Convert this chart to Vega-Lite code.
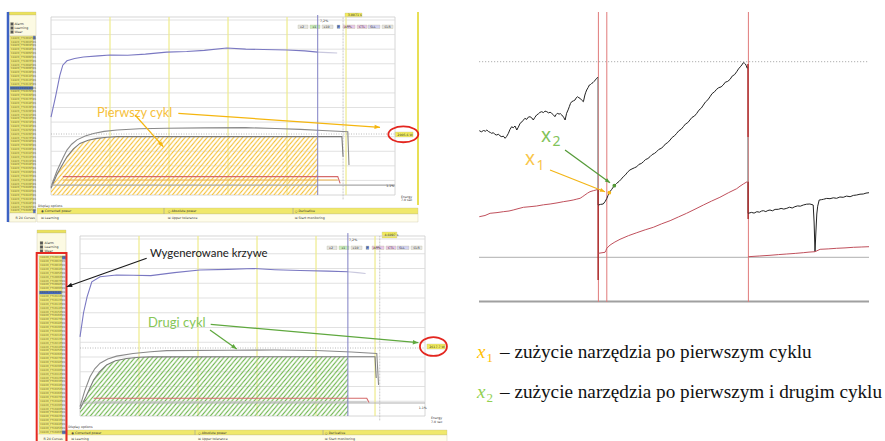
{
"$schema":"https://vega.github.io/schema/vega-lite/v6.json",
"width":885,"height":441,"autosize":{"type":"none"},"padding":0,"background":"#ffffff",
"config":{"view":{"stroke":null},"axis":{"grid":false,"tickSize":2,"labelFontSize":3.2,"labelFont":"DejaVu Sans","labelColor":"#333333","domainColor":"#555555","tickColor":"#555555","labelPadding":1,"labelFlush":false,"labelOverlap":false,"domainWidth":0.8,"tickWidth":0.6}},
"datasets":{
"files":[{"item":"C8820_FT1001PW1"},{"item":"C8820_FT1002PW1"},{"item":"C8820_FT1003PW1"},{"item":"C8820_FT1004PW1"},{"item":"C8820_FT1005PW1"},{"item":"C8820_FT1006PW1"},{"item":"C8820_FT1007PW1"},{"item":"C8820_FT1008PW1"},{"item":"C8820_FT1009PW1"},{"item":"C8820_FT1010PW1"},{"item":"C8820_FT1011PW1"},{"item":"C8820_FT1012PW1"},{"item":"C8820_FT1013PW1"},{"item":"C8820_FT1014PW1"},{"item":"C8820_FT1015PW1"},{"item":"C8820_FT1016PW1"},{"item":"C8820_FT1017PW1"},{"item":"C8820_FT1018PW1"},{"item":"C8820_FT1019PW1"},{"item":"C8820_FT1020PW1"},{"item":"C8820_FT1021PW1"},{"item":"C8820_FT1022PW1"},{"item":"C8820_FT1023PW1"},{"item":"C8820_FT1024PW1"},{"item":"C8820_FT1025PW1"},{"item":"C8820_FT1026PW1"},{"item":"C8820_FT1027PW1"},{"item":"C8820_FT1028PW1"},{"item":"C8820_FT1029PW1"},{"item":"C8820_FT1030PW1"},{"item":"C8820_FT1031PW1"},{"item":"C8820_FT1032PW1"},{"item":"C8820_FT1033PW1"},{"item":"C8820_FT1034PW1"},{"item":"C8820_FT1035PW1"},{"item":"C8820_FT1036PW1"},{"item":"C8820_FT1037PW1"},{"item":"C8820_FT1038PW1"},{"item":"C8820_FT1039PW1"},{"item":"C8820_FT1040PW1"},{"item":"C8820_FT1041PW1"},{"item":"C8820_FT1042PW1"},{"item":"C8820_FT1043PW1"},{"item":"C8820_FT1044PW1"},{"item":"C8820_FT1045PW1"},{"item":"C8820_FT1046PW1"}],
"stripesA":[],
"A_ui":[
{"part":"header","s":-0.729,"s2":-0.254,"w":6274,"w2":6171},
{"part":"cream","s":-0.729,"s2":-0.254,"w":6171,"w2":5451},
{"part":"listbg","s":-0.695,"s2":-0.263,"w":5451,"w2":-617},
{"part":"cream","s":-0.729,"s2":-0.254,"w":-617,"w2":-926},
{"part":"scroll","s":-0.305,"s2":-0.263,"w":5451,"w2":-617},
{"part":"scrollbtn","s":-0.305,"s2":-0.263,"w":5451,"w2":5330},
{"part":"scrollbtn","s":-0.305,"s2":-0.263,"w":-496,"w2":-617},
{"part":"check","s":-0.686,"s2":-0.636,"w":5914,"w2":5811},
{"part":"check","s":-0.686,"s2":-0.636,"w":5777,"w2":5674},
{"part":"check","s":-0.686,"s2":-0.636,"w":5640,"w2":5537},
{"part":"bar","s":-0.237,"s2":6.22,"w":-446,"w2":-651},
{"part":"panel","s":-0.237,"s2":6.22,"w":-651,"w2":-926},
{"part":"box","s":4.983,"s2":5.271,"w":6240,"w2":6103},
{"part":"box","s":5.83,"s2":6.136,"w":2160,"w2":1989},
{"part":"btn","s":4.186,"s2":4.356,"w":5829,"w2":5709},
{"part":"btn_g","s":4.39,"s2":4.559,"w":5829,"w2":5709},
{"part":"btn","s":4.593,"s2":4.78,"w":5829,"w2":5709},
{"part":"btn_b","s":4.847,"s2":4.898,"w":5829,"w2":5709},
{"part":"btn_p","s":4.949,"s2":5.153,"w":5829,"w2":5709},
{"part":"btn_p","s":5.186,"s2":5.356,"w":5829,"w2":5709},
{"part":"btn_v","s":5.373,"s2":5.576,"w":5829,"w2":5709},
{"part":"btn","s":5.61,"s2":5.797,"w":5829,"w2":5709}],
"A_text":[
{"label":"Alarm","s":-0.62,"w":5863},{"label":"Learning","s":-0.62,"w":5726},{"label":"Wear","s":-0.62,"w":5589},
{"label":"R 24 Curves","s":-0.6,"w":-789},{"label":"Display options","s":-0.22,"w":-360},
{"label":"◉ Corrected power","s":-0.17,"w":-548},{"label":"○ Absolute power","s":1.98,"w":-548},{"label":"○ Derivative","s":4.13,"w":-548},
{"label":"☒ Learning","s":-0.17,"w":-789},{"label":"☒ Upper tolerance","s":1.98,"w":-789},{"label":"☒ Start monitoring","s":4.13,"w":-789},
{"label":"3.0071 s","s":5.03,"w":6171},{"label":"2005.6 W","s":5.87,"w":2075},
{"label":"Energy","s":5.93,"w":-75},{"label":"7.0 sec","s":5.93,"w":-185},{"label":"1.1%","s":5.68,"w":309},{"label":"7,2%","s":4.56,"w":5966},
{"label":"x2","s":4.22,"w":5769},{"label":"x1","s":4.43,"w":5769},{"label":"x10","s":4.62,"w":5769},{"label":"P","s":4.855,"w":5769},{"label":"APPL","s":4.97,"w":5769},{"label":"CTL","s":5.22,"w":5769},{"label":"SLL","s":5.41,"w":5769},{"label":"CLR","s":5.65,"w":5769}],
"A_curves":[
{"curve":"power","s":0,"w":2670},{"curve":"power","s":0.08,"w":3400},{"curve":"power","s":0.15,"w":4100},{"curve":"power","s":0.2,"w":4450},{"curve":"power","s":0.27,"w":4600},{"curve":"power","s":0.4,"w":4680},{"curve":"power","s":0.55,"w":4730},{"curve":"power","s":0.8,"w":4770},{"curve":"power","s":1.0,"w":4800},{"curve":"power","s":1.3,"w":4790},{"curve":"power","s":1.6,"w":4830},{"curve":"power","s":1.96,"w":4900},{"curve":"power","s":2.3,"w":4920},{"curve":"power","s":2.6,"w":4960},{"curve":"power","s":2.98,"w":5040},{"curve":"power","s":3.3,"w":5000},{"curve":"power","s":3.6,"w":4990},{"curve":"power","s":4.0,"w":4970},{"curve":"power","s":4.3,"w":4940},{"curve":"power","s":4.52,"w":4900},
{"curve":"tail","s":4.52,"w":4900},{"curve":"tail","s":4.7,"w":4880},{"curve":"tail","s":4.85,"w":4870},
{"curve":"upper","s":0,"w":285},{"curve":"upper","s":0.1,"w":820},{"curve":"upper","s":0.2,"w":1260},{"curve":"upper","s":0.27,"w":1540},{"curve":"upper","s":0.35,"w":1740},{"curve":"upper","s":0.44,"w":1890},{"curve":"upper","s":0.58,"w":2020},{"curve":"upper","s":0.72,"w":2110},{"curve":"upper","s":0.9,"w":2180},{"curve":"upper","s":1.12,"w":2230},{"curve":"upper","s":1.5,"w":2270},{"curve":"upper","s":1.96,"w":2290},{"curve":"upper","s":2.6,"w":2300},{"curve":"upper","s":3.3,"w":2310},{"curve":"upper","s":3.8,"w":2280},{"curve":"upper","s":4.23,"w":2250},{"curve":"upper","s":4.6,"w":2210},{"curve":"upper","s":5.03,"w":2170},{"curve":"upper","s":5.05,"w":1030},
{"curve":"lower","s":0,"w":230},{"curve":"lower","s":0.1,"w":700},{"curve":"lower","s":0.2,"w":1060},{"curve":"lower","s":0.27,"w":1310},{"curve":"lower","s":0.38,"w":1580},{"curve":"lower","s":0.49,"w":1770},{"curve":"lower","s":0.63,"w":1880},{"curve":"lower","s":0.78,"w":1940},{"curve":"lower","s":0.95,"w":1980},{"curve":"lower","s":1.12,"w":2000},{"curve":"lower","s":4.93,"w":2000},{"curve":"lower","s":4.95,"w":1310},
{"curve":"red","s":0.2,"w":630},{"curve":"red","s":4.86,"w":630},{"curve":"red","s":4.9,"w":400},
{"curve":"orange","s":0.2,"w":515},{"curve":"orange","s":4.86,"w":515},
{"curve":"base","s":0,"w":340},{"curve":"base","s":5.83,"w":340}],
"A_hatch":[{"s":0,"w":230},{"s":0.1,"w":700},{"s":0.2,"w":1060},{"s":0.27,"w":1310},{"s":0.38,"w":1580},{"s":0.49,"w":1770},{"s":0.63,"w":1880},{"s":0.78,"w":1940},{"s":0.95,"w":1980},{"s":1.12,"w":2000},{"s":4.52,"w":2000}],
"B_ui":[
{"part":"header","s":-0.729,"s2":-0.237,"w":6305,"w2":6204},
{"part":"cream","s":-0.729,"s2":-0.237,"w":6204,"w2":5424},
{"part":"listbg","s":-0.695,"s2":-0.237,"w":5424,"w2":-610},
{"part":"cream","s":-0.729,"s2":-0.237,"w":-610,"w2":-983},
{"part":"scroll","s":-0.305,"s2":-0.237,"w":5424,"w2":-610},
{"part":"scrollbtn","s":-0.305,"s2":-0.237,"w":5424,"w2":5310},
{"part":"scrollbtn","s":-0.305,"s2":-0.237,"w":-496,"w2":-610},
{"part":"check","s":-0.678,"s2":-0.627,"w":5916,"w2":5814},
{"part":"check","s":-0.678,"s2":-0.627,"w":5780,"w2":5678},
{"part":"check","s":-0.678,"s2":-0.627,"w":5644,"w2":5543},
{"part":"bar","s":-0.22,"s2":6.22,"w":-475,"w2":-644},
{"part":"panel","s":-0.22,"s2":6.22,"w":-644,"w2":-983},
{"part":"box","s":5.12,"s2":5.37,"w":6237,"w2":6034},
{"part":"box","s":5.88,"s2":6.19,"w":2440,"w2":2270},
{"part":"btn","s":4.186,"s2":4.356,"w":5763,"w2":5644},
{"part":"btn_g","s":4.39,"s2":4.559,"w":5763,"w2":5644},
{"part":"btn","s":4.593,"s2":4.78,"w":5763,"w2":5644},
{"part":"btn_b","s":4.847,"s2":4.898,"w":5763,"w2":5644},
{"part":"btn_p","s":4.949,"s2":5.153,"w":5763,"w2":5644},
{"part":"btn_p","s":5.186,"s2":5.356,"w":5763,"w2":5644},
{"part":"btn_v","s":5.373,"s2":5.576,"w":5763,"w2":5644},
{"part":"btn","s":5.61,"s2":5.797,"w":5763,"w2":5644}],
"B_text":[
{"label":"Alarm","s":-0.6,"w":5865},{"label":"Learning","s":-0.6,"w":5729},{"label":"Wear","s":-0.6,"w":5594},
{"label":"R 24 Curves","s":-0.62,"w":-780},{"label":"Display options","s":-0.2,"w":-373},
{"label":"◉ Corrected power","s":-0.15,"w":-560},{"label":"○ Absolute power","s":2.0,"w":-560},{"label":"○ Derivative","s":4.15,"w":-560},
{"label":"☒ Learning","s":-0.15,"w":-790},{"label":"☒ Upper tolerance","s":2.0,"w":-790},{"label":"☒ Start monitoring","s":4.15,"w":-790},
{"label":"4.6097 s","s":5.16,"w":6135},{"label":"2617.7 W","s":5.92,"w":2356},
{"label":"Energy","s":5.95,"w":-68},{"label":"7.0 sec","s":5.95,"w":-203},{"label":"1.1%","s":5.74,"w":271},{"label":"7,2%","s":4.56,"w":5966},
{"label":"x2","s":4.22,"w":5703},{"label":"x1","s":4.43,"w":5703},{"label":"x10","s":4.62,"w":5703},{"label":"P","s":4.855,"w":5703},{"label":"APPL","s":4.97,"w":5703},{"label":"CTL","s":5.22,"w":5703},{"label":"SLL","s":5.41,"w":5703},{"label":"CLR","s":5.65,"w":5703}],
"B_curves":[
{"curve":"power","s":0,"w":2680},{"curve":"power","s":0.06,"w":3500},{"curve":"power","s":0.12,"w":4040},{"curve":"power","s":0.2,"w":4550},{"curve":"power","s":0.34,"w":4720},{"curve":"power","s":0.62,"w":4780},{"curve":"power","s":0.9,"w":4770},{"curve":"power","s":1.2,"w":4760},{"curve":"power","s":1.6,"w":4860},{"curve":"power","s":2.03,"w":4950},{"curve":"power","s":2.5,"w":4970},{"curve":"power","s":2.94,"w":5000},{"curve":"power","s":3.3,"w":4960},{"curve":"power","s":3.73,"w":4930},{"curve":"power","s":4.2,"w":4910},{"curve":"power","s":4.54,"w":4890},
{"curve":"tail","s":4.54,"w":4890},{"curve":"tail","s":4.7,"w":4860},{"curve":"tail","s":4.84,"w":4830},
{"curve":"upper","s":0,"w":320},{"curve":"upper","s":0.08,"w":850},{"curve":"upper","s":0.17,"w":1330},{"curve":"upper","s":0.25,"w":1600},{"curve":"upper","s":0.34,"w":1790},{"curve":"upper","s":0.47,"w":1930},{"curve":"upper","s":0.62,"w":2030},{"curve":"upper","s":0.9,"w":2120},{"curve":"upper","s":1.2,"w":2180},{"curve":"upper","s":1.47,"w":2215},{"curve":"upper","s":2.5,"w":2230},{"curve":"upper","s":3.3,"w":2235},{"curve":"upper","s":4.0,"w":2220},{"curve":"upper","s":4.6,"w":2170},{"curve":"upper","s":5.03,"w":2120},{"curve":"upper","s":5.06,"w":1050},
{"curve":"lower","s":0,"w":240},{"curve":"lower","s":0.1,"w":650},{"curve":"lower","s":0.23,"w":1220},{"curve":"lower","s":0.33,"w":1500},{"curve":"lower","s":0.45,"w":1730},{"curve":"lower","s":0.6,"w":1870},{"curve":"lower","s":0.79,"w":1950},{"curve":"lower","s":1.0,"w":1990},{"curve":"lower","s":1.2,"w":2005},{"curve":"lower","s":5.0,"w":2010},{"curve":"lower","s":5.02,"w":1290},
{"curve":"red","s":0.23,"w":600},{"curve":"red","s":4.86,"w":600},{"curve":"red","s":4.9,"w":450},
{"curve":"orange","s":0.23,"w":480},{"curve":"orange","s":4.86,"w":480},
{"curve":"base","s":0,"w":440},{"curve":"base","s":5.847,"w":440}],
"B_hatch":[{"s":0,"w":240},{"s":0.1,"w":650},{"s":0.23,"w":1220},{"s":0.33,"w":1500},{"s":0.45,"w":1730},{"s":0.6,"w":1870},{"s":0.79,"w":1950},{"s":1.0,"w":1990},{"s":1.2,"w":2005},{"s":4.54,"w":2010}],
"C_series":[
{"series":"tool","seg":1,"t":0.1,"v":171.3},{"series":"tool","seg":1,"t":0.8,"v":170.2},{"series":"tool","seg":1,"t":1.5,"v":171.5},{"series":"tool","seg":1,"t":2.2,"v":170.8},{"series":"tool","seg":1,"t":2.6,"v":172.0},{"series":"tool","seg":1,"t":3.2,"v":170.4},{"series":"tool","seg":1,"t":3.8,"v":169.5},{"series":"tool","seg":1,"t":4.2,"v":168.7},{"series":"tool","seg":1,"t":4.8,"v":169.3},{"series":"tool","seg":1,"t":5.3,"v":167.6},{"series":"tool","seg":1,"t":5.9,"v":167.0},{"series":"tool","seg":1,"t":6.5,"v":167.8},{"series":"tool","seg":1,"t":7.0,"v":166.1},{"series":"tool","seg":1,"t":7.6,"v":165.3},{"series":"tool","seg":1,"t":8.1,"v":165.9},{"series":"tool","seg":1,"t":8.7,"v":163.7},{"series":"tool","seg":1,"t":9.2,"v":165.5},{"series":"tool","seg":1,"t":9.8,"v":168.7},{"series":"tool","seg":1,"t":10.3,"v":172.4},{"series":"tool","seg":1,"t":10.9,"v":175.3},{"series":"tool","seg":1,"t":11.4,"v":174.2},{"series":"tool","seg":1,"t":12.0,"v":176.0},{"series":"tool","seg":1,"t":12.6,"v":172.0},{"series":"tool","seg":1,"t":13.1,"v":174.8},{"series":"tool","seg":1,"t":13.7,"v":178.7},{"series":"tool","seg":1,"t":14.3,"v":180.1},{"series":"tool","seg":1,"t":14.8,"v":181.9},{"series":"tool","seg":1,"t":15.3,"v":183.7},{"series":"tool","seg":1,"t":15.9,"v":182.6},{"series":"tool","seg":1,"t":16.4,"v":184.8},{"series":"tool","seg":1,"t":17.0,"v":185.3},{"series":"tool","seg":1,"t":17.6,"v":184.1},{"series":"tool","seg":1,"t":18.1,"v":182.0},{"series":"tool","seg":1,"t":18.6,"v":184.5},{"series":"tool","seg":1,"t":19.2,"v":187.0},{"series":"tool","seg":1,"t":19.8,"v":188.2},{"series":"tool","seg":1,"t":20.3,"v":189.6},{"series":"tool","seg":1,"t":20.9,"v":190.3},{"series":"tool","seg":1,"t":21.5,"v":189.4},{"series":"tool","seg":1,"t":22.0,"v":190.9},{"series":"tool","seg":1,"t":22.6,"v":190.3},{"series":"tool","seg":1,"t":23.2,"v":189.1},{"series":"tool","seg":1,"t":23.7,"v":189.8},{"series":"tool","seg":1,"t":24.2,"v":188.7},{"series":"tool","seg":1,"t":24.8,"v":187.2},{"series":"tool","seg":1,"t":25.3,"v":185.3},{"series":"tool","seg":1,"t":25.7,"v":187.4},{"series":"tool","seg":1,"t":26.1,"v":188.7},{"series":"tool","seg":1,"t":26.7,"v":187.9},{"series":"tool","seg":1,"t":27.1,"v":188.4},{"series":"tool","seg":1,"t":27.6,"v":187.0},{"series":"tool","seg":1,"t":28.2,"v":184.8},{"series":"tool","seg":1,"t":28.7,"v":182.0},{"series":"tool","seg":1,"t":29.2,"v":188.7},{"series":"tool","seg":1,"t":29.7,"v":192.1},{"series":"tool","seg":1,"t":30.1,"v":195.3},{"series":"tool","seg":1,"t":30.5,"v":198.6},{"series":"tool","seg":1,"t":30.9,"v":200.3},{"series":"tool","seg":1,"t":31.5,"v":201.2},{"series":"tool","seg":1,"t":32.0,"v":202.0},{"series":"tool","seg":1,"t":32.4,"v":204.1},{"series":"tool","seg":1,"t":32.8,"v":205.3},{"series":"tool","seg":1,"t":33.3,"v":204.2},{"series":"tool","seg":1,"t":33.7,"v":203.7},{"series":"tool","seg":1,"t":34.2,"v":201.9},{"series":"tool","seg":1,"t":34.8,"v":200.3},{"series":"tool","seg":1,"t":35.3,"v":207.0},{"series":"tool","seg":1,"t":35.6,"v":209.8},{"series":"tool","seg":1,"t":35.9,"v":212.0},{"series":"tool","seg":1,"t":36.4,"v":214.6},{"series":"tool","seg":1,"t":36.8,"v":217.0},{"series":"tool","seg":1,"t":37.2,"v":217.5},{"series":"tool","seg":1,"t":37.6,"v":218.7},{"series":"tool","seg":1,"t":38.0,"v":219.4},{"series":"tool","seg":1,"t":38.3,"v":220.3},{"series":"tool","seg":1,"t":38.8,"v":222.1},{"series":"tool","seg":1,"t":39.2,"v":223.7},{"series":"tool","seg":1,"t":39.6,"v":224.7},
{"series":"tool","seg":2,"t":39.8,"v":97.0},{"series":"tool","seg":2,"t":40.5,"v":97.6},{"series":"tool","seg":2,"t":41.4,"v":98.0},{"series":"tool","seg":2,"t":42.0,"v":100.3},{"series":"tool","seg":2,"t":42.6,"v":103.5},{"series":"tool","seg":2,"t":43.0,"v":106.5},{"series":"tool","seg":2,"t":43.4,"v":109.3},{"series":"tool","seg":2,"t":44.2,"v":112.5},{"series":"tool","seg":2,"t":45.1,"v":116.3},{"series":"tool","seg":2,"t":45.9,"v":118.7},{"series":"tool","seg":2,"t":46.7,"v":120.6},{"series":"tool","seg":2,"t":47.4,"v":122.8},{"series":"tool","seg":2,"t":48.1,"v":125.3},{"series":"tool","seg":2,"t":48.8,"v":127.1},{"series":"tool","seg":2,"t":49.5,"v":129.8},{"series":"tool","seg":2,"t":50.3,"v":132.0},{"series":"tool","seg":2,"t":51.0,"v":133.1},{"series":"tool","seg":2,"t":51.8,"v":134.2},{"series":"tool","seg":2,"t":52.6,"v":135.3},{"series":"tool","seg":2,"t":53.3,"v":137.6},{"series":"tool","seg":2,"t":54.1,"v":138.5},{"series":"tool","seg":2,"t":54.8,"v":140.3},{"series":"tool","seg":2,"t":55.5,"v":142.4},{"series":"tool","seg":2,"t":56.3,"v":143.5},{"series":"tool","seg":2,"t":57.0,"v":145.3},{"series":"tool","seg":2,"t":57.7,"v":147.4},{"series":"tool","seg":2,"t":58.5,"v":148.6},{"series":"tool","seg":2,"t":59.2,"v":150.3},{"series":"tool","seg":2,"t":59.9,"v":152.5},{"series":"tool","seg":2,"t":60.7,"v":153.6},{"series":"tool","seg":2,"t":61.4,"v":155.3},{"series":"tool","seg":2,"t":62.1,"v":157.9},{"series":"tool","seg":2,"t":62.9,"v":159.4},{"series":"tool","seg":2,"t":63.7,"v":162.0},{"series":"tool","seg":2,"t":64.4,"v":164.6},{"series":"tool","seg":2,"t":65.2,"v":166.3},{"series":"tool","seg":2,"t":65.9,"v":168.7},{"series":"tool","seg":2,"t":66.6,"v":171.2},{"series":"tool","seg":2,"t":67.4,"v":172.8},{"series":"tool","seg":2,"t":68.1,"v":175.3},{"series":"tool","seg":2,"t":68.8,"v":177.9},{"series":"tool","seg":2,"t":69.6,"v":179.4},{"series":"tool","seg":2,"t":70.3,"v":182.0},{"series":"tool","seg":2,"t":71.0,"v":184.6},{"series":"tool","seg":2,"t":71.8,"v":185.9},{"series":"tool","seg":2,"t":72.6,"v":188.7},{"series":"tool","seg":2,"t":73.3,"v":191.8},{"series":"tool","seg":2,"t":74.1,"v":193.9},{"series":"tool","seg":2,"t":74.8,"v":197.0},{"series":"tool","seg":2,"t":75.5,"v":200.1},{"series":"tool","seg":2,"t":76.3,"v":202.2},{"series":"tool","seg":2,"t":77.0,"v":205.3},{"series":"tool","seg":2,"t":77.7,"v":208.4},{"series":"tool","seg":2,"t":78.5,"v":210.2},{"series":"tool","seg":2,"t":79.2,"v":212.7},{"series":"tool","seg":2,"t":79.9,"v":214.3},{"series":"tool","seg":2,"t":80.7,"v":215.1},{"series":"tool","seg":2,"t":81.4,"v":217.0},{"series":"tool","seg":2,"t":82.1,"v":219.8},{"series":"tool","seg":2,"t":82.9,"v":220.6},{"series":"tool","seg":2,"t":83.7,"v":222.7},{"series":"tool","seg":2,"t":84.4,"v":225.9},{"series":"tool","seg":2,"t":85.2,"v":227.4},{"series":"tool","seg":2,"t":85.9,"v":230.3},{"series":"tool","seg":2,"t":86.5,"v":233.1},{"series":"tool","seg":2,"t":87.1,"v":235.2},{"series":"tool","seg":2,"t":87.6,"v":237.0},{"series":"tool","seg":2,"t":88.1,"v":239.3},{"series":"tool","seg":2,"t":88.5,"v":238.8},{"series":"tool","seg":2,"t":88.8,"v":238.0},{"series":"tool","seg":2,"t":89.1,"v":236.2},{"series":"tool","seg":2,"t":89.4,"v":233.7},
{"series":"tool","seg":3,"t":89.8,"v":88.7},{"series":"tool","seg":3,"t":90.8,"v":89.6},{"series":"tool","seg":3,"t":91.7,"v":88.9},{"series":"tool","seg":3,"t":92.6,"v":90.3},{"series":"tool","seg":3,"t":93.5,"v":89.8},{"series":"tool","seg":3,"t":94.2,"v":91.0},{"series":"tool","seg":3,"t":94.8,"v":91.3},{"series":"tool","seg":3,"t":95.6,"v":90.4},{"series":"tool","seg":3,"t":96.3,"v":91.5},{"series":"tool","seg":3,"t":97.0,"v":92.0},{"series":"tool","seg":3,"t":97.8,"v":91.2},{"series":"tool","seg":3,"t":98.7,"v":92.6},{"series":"tool","seg":3,"t":99.8,"v":92.7},{"series":"tool","seg":3,"t":100.7,"v":93.6},{"series":"tool","seg":3,"t":101.6,"v":92.9},{"series":"tool","seg":3,"t":102.6,"v":93.7},{"series":"tool","seg":3,"t":103.5,"v":94.8},{"series":"tool","seg":3,"t":104.4,"v":94.0},{"series":"tool","seg":3,"t":105.3,"v":95.3},{"series":"tool","seg":3,"t":106.2,"v":96.1},{"series":"tool","seg":3,"t":107.1,"v":95.8},{"series":"tool","seg":3,"t":108.1,"v":97.0},{"series":"tool","seg":3,"t":109.2,"v":97.8},{"series":"tool","seg":3,"t":110.3,"v":98.0},{"series":"tool","seg":3,"t":111.0,"v":97.4},{"series":"tool","seg":3,"t":111.4,"v":97.0},{"series":"tool","seg":3,"t":111.7,"v":80.0},{"series":"tool","seg":3,"t":112.0,"v":50.3},{"series":"tool","seg":3,"t":112.3,"v":70.0},{"series":"tool","seg":3,"t":112.6,"v":88.0},{"series":"tool","seg":3,"t":112.9,"v":95.8},{"series":"tool","seg":3,"t":113.4,"v":102.0},{"series":"tool","seg":3,"t":114.1,"v":102.3},{"series":"tool","seg":3,"t":114.8,"v":102.7},{"series":"tool","seg":3,"t":115.9,"v":103.6},{"series":"tool","seg":3,"t":117.0,"v":103.3},{"series":"tool","seg":3,"t":118.1,"v":104.2},{"series":"tool","seg":3,"t":119.2,"v":103.7},{"series":"tool","seg":3,"t":120.3,"v":105.0},{"series":"tool","seg":3,"t":121.4,"v":104.7},{"series":"tool","seg":3,"t":122.5,"v":105.9},{"series":"tool","seg":3,"t":123.7,"v":105.3},{"series":"tool","seg":3,"t":124.8,"v":106.6},{"series":"tool","seg":3,"t":125.9,"v":107.0},{"series":"tool","seg":3,"t":127.0,"v":107.8},{"series":"tool","seg":3,"t":128.1,"v":108.0},{"series":"tool","seg":3,"t":129.0,"v":108.9},{"series":"tool","seg":3,"t":130.0,"v":109.3},
{"series":"ref","seg":1,"t":0.1,"v":85.3},{"series":"ref","seg":1,"t":2.0,"v":86.5},{"series":"ref","seg":1,"t":3.7,"v":88.7},{"series":"ref","seg":1,"t":6.0,"v":89.4},{"series":"ref","seg":1,"t":8.1,"v":90.3},{"series":"ref","seg":1,"t":10.0,"v":91.0},{"series":"ref","seg":1,"t":11.4,"v":92.0},{"series":"ref","seg":1,"t":13.0,"v":93.3},{"series":"ref","seg":1,"t":14.8,"v":94.7},{"series":"ref","seg":1,"t":17.0,"v":95.3},{"series":"ref","seg":1,"t":19.2,"v":96.0},{"series":"ref","seg":1,"t":21.5,"v":97.2},{"series":"ref","seg":1,"t":23.7,"v":98.0},{"series":"ref","seg":1,"t":26.0,"v":99.1},{"series":"ref","seg":1,"t":28.1,"v":100.3},{"series":"ref","seg":1,"t":30.0,"v":101.2},{"series":"ref","seg":1,"t":31.4,"v":102.0},{"series":"ref","seg":1,"t":32.6,"v":102.9},{"series":"ref","seg":1,"t":33.7,"v":103.7},{"series":"ref","seg":1,"t":34.6,"v":105.5},{"series":"ref","seg":1,"t":35.3,"v":107.0},{"series":"ref","seg":1,"t":36.2,"v":108.9},{"series":"ref","seg":1,"t":37.0,"v":110.3},{"series":"ref","seg":1,"t":38.1,"v":111.3},{"series":"ref","seg":1,"t":39.0,"v":112.0},{"series":"ref","seg":1,"t":39.6,"v":112.7},
{"series":"ref","seg":2,"t":39.8,"v":48.7},{"series":"ref","seg":2,"t":42.0,"v":49.7},{"series":"ref","seg":2,"t":42.3,"v":51.5},{"series":"ref","seg":2,"t":42.6,"v":53.7},{"series":"ref","seg":2,"t":43.7,"v":57.0},{"series":"ref","seg":2,"t":45.3,"v":60.0},{"series":"ref","seg":2,"t":47.0,"v":62.7},{"series":"ref","seg":2,"t":49.8,"v":66.3},{"series":"ref","seg":2,"t":52.6,"v":69.3},{"series":"ref","seg":2,"t":55.4,"v":72.2},{"series":"ref","seg":2,"t":58.1,"v":74.7},{"series":"ref","seg":2,"t":60.9,"v":78.2},{"series":"ref","seg":2,"t":63.7,"v":81.3},{"series":"ref","seg":2,"t":66.5,"v":85.1},{"series":"ref","seg":2,"t":69.2,"v":88.7},{"series":"ref","seg":2,"t":72.0,"v":92.8},{"series":"ref","seg":2,"t":74.8,"v":97.0},{"series":"ref","seg":2,"t":77.5,"v":100.9},{"series":"ref","seg":2,"t":80.3,"v":104.7},{"series":"ref","seg":2,"t":83.1,"v":109.2},{"series":"ref","seg":2,"t":85.9,"v":113.3},{"series":"ref","seg":2,"t":87.0,"v":115.8},{"series":"ref","seg":2,"t":88.1,"v":118.0},{"series":"ref","seg":2,"t":89.4,"v":120.3},
{"series":"ref","seg":3,"t":89.8,"v":45.3},{"series":"ref","seg":3,"t":93.4,"v":46.0},{"series":"ref","seg":3,"t":97.0,"v":46.7},{"series":"ref","seg":3,"t":99.8,"v":47.4},{"series":"ref","seg":3,"t":102.6,"v":48.0},{"series":"ref","seg":3,"t":105.4,"v":48.6},{"series":"ref","seg":3,"t":108.1,"v":49.3},{"series":"ref","seg":3,"t":110.0,"v":49.9},{"series":"ref","seg":3,"t":112.0,"v":50.3},{"series":"ref","seg":3,"t":113.7,"v":52.7},{"series":"ref","seg":3,"t":116.4,"v":53.1},{"series":"ref","seg":3,"t":119.2,"v":53.7},{"series":"ref","seg":3,"t":122.0,"v":54.1},{"series":"ref","seg":3,"t":124.8,"v":54.7},{"series":"ref","seg":3,"t":127.4,"v":55.0},{"series":"ref","seg":3,"t":130.0,"v":55.3}]
},
"layer":[
{
"layer":[
{
"layer":[
{"data":{"name":"A_ui"},"mark":{"type":"rect","stroke":"#b9b48c","strokeWidth":0.3},
 "encoding":{
  "x":{"field":"s","type":"quantitative","scale":{"domain":[0,5.83],"range":[51,395],"nice":false,"zero":false},"axis":{"orient":"bottom","offset":-246,"values":[0,1,2,3,4,5],"labelExpr":"datum.value == 0 ? '0s' : format(datum.value, '.1f') + 's'","title":null}},
  "x2":{"field":"s2"},
  "y":{"field":"w","type":"quantitative","scale":{"domain":[0,6000],"range":[195,20],"nice":false,"zero":false},"axis":{"orient":"left","offset":-50.5,"values":[0,1000,2000,3000,4000,5000,6000],"format":".1f","title":null}},
  "y2":{"field":"w2"},
  "fill":{"field":"part","type":"nominal","scale":{"domain":["header","cream","listbg","scroll","scrollbtn","bar","panel","box","btn","btn_g","btn_b","btn_p","btn_v","check"],"range":["#ebe25b","#fcfae3","#d9d48e","#dfe3ee","#4d6ec8","#f0e86a","#fffdeb","#f2ec5c","#e4e4e4","#c6ecbd","#6f8fe0","#e8c8e8","#d3d3f2","#555555"]},"legend":null}}},
{"data":{"values":[{}]},"mark":{"type":"rect","filled":false,"color":"#cccccc","strokeWidth":0.8},
 "encoding":{"x":{"datum":0,"axis":null},"x2":{"datum":5.83},"y":{"datum":0,"axis":null},"y2":{"datum":6103}}},
{"data":{"values":[{"w":500},{"w":1000},{"w":1500},{"w":2000},{"w":2500},{"w":3000},{"w":3500},{"w":4000},{"w":4500},{"w":5000},{"w":5500},{"w":6000}]},
 "mark":{"type":"rule","color":"#d9d9d9","strokeWidth":0.8},
 "encoding":{"y":{"field":"w","type":"quantitative","axis":null},"x":{"datum":0,"axis":null},"x2":{"datum":5.83}}},
{"data":{"values":[{"s":1},{"s":2},{"s":3},{"s":4},{"s":5}]},"mark":{"type":"rule","color":"#eeeb8c","strokeWidth":1.2},
 "encoding":{"x":{"field":"s","type":"quantitative","axis":null},"y":{"datum":0,"axis":null},"y2":{"datum":6103}}},
{"data":{"values":[{"s":4.95}]},"mark":{"type":"rule","color":"#bbbbbb","strokeWidth":0.8,"strokeDash":[2,1]},
 "encoding":{"x":{"field":"s","type":"quantitative","axis":null},"y":{"datum":-150,"axis":null},"y2":{"datum":6103}}},
{"data":{"values":[{"w":2091}]},"mark":{"type":"rule","color":"#aaaaaa","strokeWidth":0.8,"strokeDash":[1,1.5]},
 "encoding":{"y":{"field":"w","type":"quantitative","axis":null},"x":{"datum":0,"axis":null},"x2":{"datum":5.83}}},
{"data":{"name":"A_hatch"},"mark":{"type":"area","color":{"gradient":"linear","x1":0,"y1":0,"x2":1.145,"y2":0.2095,"stops":[
{"offset":0,"color":"rgba(255,255,255,0)"},{"offset":0.007,"color":"#f5c13a"},{"offset":0.014,"color":"rgba(255,255,255,0)"},{"offset":0.021,"color":"#f5c13a"},{"offset":0.028,"color":"rgba(255,255,255,0)"},{"offset":0.035,"color":"#f5c13a"},{"offset":0.042,"color":"rgba(255,255,255,0)"},{"offset":0.049,"color":"#f5c13a"},{"offset":0.056,"color":"rgba(255,255,255,0)"},{"offset":0.063,"color":"#f5c13a"},{"offset":0.07,"color":"rgba(255,255,255,0)"},{"offset":0.077,"color":"#f5c13a"},{"offset":0.084,"color":"rgba(255,255,255,0)"},{"offset":0.091,"color":"#f5c13a"},{"offset":0.098,"color":"rgba(255,255,255,0)"},{"offset":0.105,"color":"#f5c13a"},{"offset":0.112,"color":"rgba(255,255,255,0)"},{"offset":0.119,"color":"#f5c13a"},{"offset":0.126,"color":"rgba(255,255,255,0)"},{"offset":0.133,"color":"#f5c13a"},{"offset":0.14,"color":"rgba(255,255,255,0)"},{"offset":0.147,"color":"#f5c13a"},{"offset":0.154,"color":"rgba(255,255,255,0)"},{"offset":0.161,"color":"#f5c13a"},{"offset":0.168,"color":"rgba(255,255,255,0)"},{"offset":0.175,"color":"#f5c13a"},{"offset":0.182,"color":"rgba(255,255,255,0)"},{"offset":0.189,"color":"#f5c13a"},{"offset":0.196,"color":"rgba(255,255,255,0)"},{"offset":0.203,"color":"#f5c13a"},{"offset":0.21,"color":"rgba(255,255,255,0)"},{"offset":0.217,"color":"#f5c13a"},{"offset":0.224,"color":"rgba(255,255,255,0)"},{"offset":0.231,"color":"#f5c13a"},{"offset":0.238,"color":"rgba(255,255,255,0)"},{"offset":0.245,"color":"#f5c13a"},{"offset":0.252,"color":"rgba(255,255,255,0)"},{"offset":0.259,"color":"#f5c13a"},{"offset":0.266,"color":"rgba(255,255,255,0)"},{"offset":0.273,"color":"#f5c13a"},{"offset":0.28,"color":"rgba(255,255,255,0)"},{"offset":0.287,"color":"#f5c13a"},{"offset":0.294,"color":"rgba(255,255,255,0)"},{"offset":0.301,"color":"#f5c13a"},{"offset":0.308,"color":"rgba(255,255,255,0)"},{"offset":0.315,"color":"#f5c13a"},{"offset":0.322,"color":"rgba(255,255,255,0)"},{"offset":0.329,"color":"#f5c13a"},{"offset":0.336,"color":"rgba(255,255,255,0)"},{"offset":0.343,"color":"#f5c13a"},{"offset":0.35,"color":"rgba(255,255,255,0)"},{"offset":0.357,"color":"#f5c13a"},{"offset":0.364,"color":"rgba(255,255,255,0)"},{"offset":0.371,"color":"#f5c13a"},{"offset":0.378,"color":"rgba(255,255,255,0)"},{"offset":0.385,"color":"#f5c13a"},{"offset":0.392,"color":"rgba(255,255,255,0)"},{"offset":0.399,"color":"#f5c13a"},{"offset":0.406,"color":"rgba(255,255,255,0)"},{"offset":0.413,"color":"#f5c13a"},{"offset":0.42,"color":"rgba(255,255,255,0)"},{"offset":0.427,"color":"#f5c13a"},{"offset":0.434,"color":"rgba(255,255,255,0)"},{"offset":0.441,"color":"#f5c13a"},{"offset":0.448,"color":"rgba(255,255,255,0)"},{"offset":0.455,"color":"#f5c13a"},{"offset":0.462,"color":"rgba(255,255,255,0)"},{"offset":0.469,"color":"#f5c13a"},{"offset":0.476,"color":"rgba(255,255,255,0)"},{"offset":0.483,"color":"#f5c13a"},{"offset":0.49,"color":"rgba(255,255,255,0)"},{"offset":0.497,"color":"#f5c13a"},{"offset":0.504,"color":"rgba(255,255,255,0)"},{"offset":0.511,"color":"#f5c13a"},{"offset":0.518,"color":"rgba(255,255,255,0)"},{"offset":0.525,"color":"#f5c13a"},{"offset":0.532,"color":"rgba(255,255,255,0)"},{"offset":0.539,"color":"#f5c13a"},{"offset":0.546,"color":"rgba(255,255,255,0)"},{"offset":0.553,"color":"#f5c13a"},{"offset":0.56,"color":"rgba(255,255,255,0)"},{"offset":0.567,"color":"#f5c13a"},{"offset":0.574,"color":"rgba(255,255,255,0)"},{"offset":0.581,"color":"#f5c13a"},{"offset":0.588,"color":"rgba(255,255,255,0)"},{"offset":0.595,"color":"#f5c13a"},{"offset":0.602,"color":"rgba(255,255,255,0)"},{"offset":0.609,"color":"#f5c13a"},{"offset":0.616,"color":"rgba(255,255,255,0)"},{"offset":0.623,"color":"#f5c13a"},{"offset":0.63,"color":"rgba(255,255,255,0)"},{"offset":0.637,"color":"#f5c13a"},{"offset":0.644,"color":"rgba(255,255,255,0)"},{"offset":0.651,"color":"#f5c13a"},{"offset":0.658,"color":"rgba(255,255,255,0)"},{"offset":0.665,"color":"#f5c13a"},{"offset":0.672,"color":"rgba(255,255,255,0)"},{"offset":0.679,"color":"#f5c13a"},{"offset":0.686,"color":"rgba(255,255,255,0)"},{"offset":0.693,"color":"#f5c13a"},{"offset":0.7,"color":"rgba(255,255,255,0)"},{"offset":0.707,"color":"#f5c13a"},{"offset":0.714,"color":"rgba(255,255,255,0)"},{"offset":0.721,"color":"#f5c13a"},{"offset":0.728,"color":"rgba(255,255,255,0)"},{"offset":0.735,"color":"#f5c13a"},{"offset":0.742,"color":"rgba(255,255,255,0)"},{"offset":0.749,"color":"#f5c13a"},{"offset":0.756,"color":"rgba(255,255,255,0)"},{"offset":0.763,"color":"#f5c13a"},{"offset":0.77,"color":"rgba(255,255,255,0)"},{"offset":0.777,"color":"#f5c13a"},{"offset":0.784,"color":"rgba(255,255,255,0)"},{"offset":0.791,"color":"#f5c13a"},{"offset":0.798,"color":"rgba(255,255,255,0)"},{"offset":0.805,"color":"#f5c13a"},{"offset":0.812,"color":"rgba(255,255,255,0)"},{"offset":0.819,"color":"#f5c13a"},{"offset":0.826,"color":"rgba(255,255,255,0)"},{"offset":0.833,"color":"#f5c13a"},{"offset":0.84,"color":"rgba(255,255,255,0)"},{"offset":0.847,"color":"#f5c13a"},{"offset":0.854,"color":"rgba(255,255,255,0)"},{"offset":0.861,"color":"#f5c13a"},{"offset":0.868,"color":"rgba(255,255,255,0)"},{"offset":0.875,"color":"#f5c13a"},{"offset":0.882,"color":"rgba(255,255,255,0)"},{"offset":0.889,"color":"#f5c13a"},{"offset":0.896,"color":"rgba(255,255,255,0)"},{"offset":0.903,"color":"#f5c13a"},{"offset":0.91,"color":"rgba(255,255,255,0)"},{"offset":0.917,"color":"#f5c13a"},{"offset":0.924,"color":"rgba(255,255,255,0)"},{"offset":0.931,"color":"#f5c13a"},{"offset":0.938,"color":"rgba(255,255,255,0)"},{"offset":0.945,"color":"#f5c13a"},{"offset":0.952,"color":"rgba(255,255,255,0)"},{"offset":0.959,"color":"#f5c13a"},{"offset":0.966,"color":"rgba(255,255,255,0)"},{"offset":0.973,"color":"#f5c13a"},{"offset":0.98,"color":"rgba(255,255,255,0)"},{"offset":0.987,"color":"#f5c13a"},{"offset":0.994,"color":"rgba(255,255,255,0)"},{"offset":1,"color":"#f5c13a"}]}},
 "encoding":{"x":{"field":"s","type":"quantitative","axis":null},"y":{"field":"w","type":"quantitative","axis":null},"y2":{"datum":0}}},
{"data":{"name":"A_curves"},"mark":{"type":"line","strokeWidth":1.1},
 "encoding":{"x":{"field":"s","type":"quantitative","axis":null},"y":{"field":"w","type":"quantitative","axis":null},
  "color":{"field":"curve","type":"nominal","scale":{"domain":["power","tail","upper","lower","red","orange","base"],"range":["#7a78c2","#c9c8de","#8a8a8a","#7a7a7a","#d56a6a","#f0b44a","#a8a8a8"]},"legend":null}}},
{"data":{"values":[{"s":4.52}]},"mark":{"type":"rule","color":"#7f7fc4","strokeWidth":1},
 "encoding":{"x":{"field":"s","type":"quantitative","axis":null},"y":{"datum":0,"axis":null},"y2":{"datum":6171}}},
{"data":{"values":[{}]},"mark":{"type":"rule","color":"#3d62c4","strokeWidth":2.5},
 "encoding":{"x":{"datum":-0.729,"axis":null},"y":{"datum":6274,"axis":null},"y2":{"datum":-926}}},
{"data":{"values":[{}]},"mark":{"type":"rule","color":"#e8df55","strokeWidth":2},
 "encoding":{"x":{"datum":6.22,"axis":null},"y":{"datum":6274,"axis":null},"y2":{"datum":-343}}},
{"data":{"values":[{"s":1.915},{"s":4.102}]},"mark":{"type":"rule","color":"#9a9a9a","strokeWidth":0.6},
 "encoding":{"x":{"field":"s","type":"quantitative","axis":null},"y":{"datum":-446,"axis":null},"y2":{"datum":-651}}},
{"data":{"name":"A_text"},"mark":{"type":"text","fontSize":3.2,"font":"DejaVu Sans","align":"left","baseline":"middle","color":"#333333"},
 "encoding":{"x":{"field":"s","type":"quantitative","axis":null},"y":{"field":"w","type":"quantitative","axis":null},"text":{"field":"label"}}},
{"data":{"values":[{"label":"Pierwszy cykl","s":0.78,"w":2811}]},"mark":{"type":"text","fontSize":12.8,"font":"Lato","align":"left","baseline":"middle","color":"#f6bf3a"},
 "encoding":{"x":{"field":"s","type":"quantitative","axis":null},"y":{"field":"w","type":"quantitative","axis":null},"text":{"field":"label"}}},
{"data":{"values":[{"s":2.158,"w":2801,"s2":5.576,"w2":2321}]},"layer":[
 {"mark":{"type":"rule","color":"#f5b60f","strokeWidth":1.2},"encoding":{"x":{"field":"s","type":"quantitative","axis":null},"y":{"field":"w","type":"quantitative","axis":null},"x2":{"field":"s2"},"y2":{"field":"w2"}}},
 {"mark":{"type":"point","shape":"M 0 0 L -2 -0.8 L -2 0.8 Z","filled":true,"opacity":1,"color":"#f5b60f","size":30,"angle":3.97},"encoding":{"x":{"field":"s2","type":"quantitative","axis":null},"y":{"field":"w2","type":"quantitative","axis":null}}}]},
{"data":{"values":[{"s":1.424,"w":2743,"s2":1.903,"w2":1656}]},"layer":[
 {"mark":{"type":"rule","color":"#f5b60f","strokeWidth":1.2},"encoding":{"x":{"field":"s","type":"quantitative","axis":null},"y":{"field":"w","type":"quantitative","axis":null},"x2":{"field":"s2"},"y2":{"field":"w2"}}},
 {"mark":{"type":"point","shape":"M 0 0 L -2 -0.8 L -2 0.8 Z","filled":true,"opacity":1,"color":"#f5b60f","size":30,"angle":48.2},"encoding":{"x":{"field":"s2","type":"quantitative","axis":null},"y":{"field":"w2","type":"quantitative","axis":null}}}]},
{"data":{"values":[{"s":5.971,"w":2081}]},"mark":{"type":"point","shape":"M -1 0 A 1 0.53 0 1 1 1 0 A 1 0.53 0 1 1 -1 0 Z","filled":false,"opacity":1,"color":"#e3261f","strokeWidth":1.8,"size":900},
 "encoding":{"x":{"field":"s","type":"quantitative","axis":null},"y":{"field":"w","type":"quantitative","axis":null}}}
],
"resolve":{"scale":{"color":"independent","fill":"independent"}}
},
{"data":{"name":"files"},"layer":[
 {"mark":{"type":"rect","stroke":"#d2cb6c","strokeWidth":0.3},
  "encoding":{"x":{"datum":"list","type":"nominal","scale":{"range":[10,33],"paddingInner":0,"paddingOuter":0},"axis":null},
   "y":{"field":"item","type":"nominal","sort":null,"scale":{"range":[36.5,212.5],"paddingInner":0.12,"paddingOuter":0},"axis":null},
   "fill":{"condition":{"test":"datum.item === 'C8820_FT1014PW1'","value":"#3b64c6"},"value":"#f3ed78"}}},
 {"mark":{"type":"text","fontSize":2.6,"font":"DejaVu Sans","align":"left","dx":1,"color":"#6b6631"},
  "encoding":{"x":{"datum":"list","type":"nominal","bandPosition":0,"axis":null},"y":{"field":"item","type":"nominal","sort":null,"axis":null},"text":{"field":"item"}}}]}
],
"resolve":{"scale":{"x":"independent","y":"independent"}}
},
{
"layer":[
{
"layer":[
{"data":{"name":"B_ui"},"mark":{"type":"rect","stroke":"#b9b48c","strokeWidth":0.3},
 "encoding":{
  "x":{"field":"s","type":"quantitative","scale":{"domain":[0,5.847],"range":[80,425],"nice":false,"zero":false},"axis":{"orient":"bottom","offset":-25,"values":[0,1,2,3,4,5],"labelExpr":"datum.value == 0 ? '0s' : format(datum.value, '.1f') + 's'","title":null}},
  "x2":{"field":"s2"},
  "y":{"field":"w","type":"quantitative","scale":{"domain":[0,6000],"range":[416,239],"nice":false,"zero":false},"axis":{"orient":"left","offset":-79.5,"values":[0,1000,2000,3000,4000,5000,6000],"format":".1f","title":null}},
  "y2":{"field":"w2"},
  "fill":{"field":"part","type":"nominal","scale":{"domain":["header","cream","listbg","scroll","scrollbtn","bar","panel","box","btn","btn_g","btn_b","btn_p","btn_v","check"],"range":["#ebe25b","#fcfae3","#d9d48e","#dfe3ee","#4d6ec8","#f0e86a","#fffdeb","#f2ec5c","#e4e4e4","#c6ecbd","#6f8fe0","#e8c8e8","#d3d3f2","#555555"]},"legend":null}}},
{"data":{"values":[{}]},"mark":{"type":"rect","filled":false,"color":"#cccccc","strokeWidth":0.8},
 "encoding":{"x":{"datum":0,"axis":null},"x2":{"datum":5.847},"y":{"datum":0,"axis":null},"y2":{"datum":6102}}},
{"data":{"values":[{"w":500},{"w":1000},{"w":1500},{"w":2000},{"w":2500},{"w":3000},{"w":3500},{"w":4000},{"w":4500},{"w":5000},{"w":5500},{"w":6000}]},
 "mark":{"type":"rule","color":"#d9d9d9","strokeWidth":0.8},
 "encoding":{"y":{"field":"w","type":"quantitative","axis":null},"x":{"datum":0,"axis":null},"x2":{"datum":5.847}}},
{"data":{"values":[{"s":1},{"s":2},{"s":3},{"s":4},{"s":5}]},"mark":{"type":"rule","color":"#eeeb8c","strokeWidth":1.2},
 "encoding":{"x":{"field":"s","type":"quantitative","axis":null},"y":{"datum":0,"axis":null},"y2":{"datum":6102}}},
{"data":{"values":[{"s":5.08}]},"mark":{"type":"rule","color":"#bbbbbb","strokeWidth":0.8,"strokeDash":[2,1]},
 "encoding":{"x":{"field":"s","type":"quantitative","axis":null},"y":{"datum":-150,"axis":null},"y2":{"datum":6102}}},
{"data":{"values":[{"w":2305}]},"mark":{"type":"rule","color":"#aaaaaa","strokeWidth":0.8,"strokeDash":[1,1.5]},
 "encoding":{"y":{"field":"w","type":"quantitative","axis":null},"x":{"datum":0,"axis":null},"x2":{"datum":5.847}}},
{"data":{"name":"B_hatch"},"mark":{"type":"area","color":{"gradient":"linear","x1":0,"y1":0,"x2":1.146,"y2":0.2128,"stops":[
{"offset":0,"color":"rgba(255,255,255,0)"},{"offset":0.007,"color":"#72b852"},{"offset":0.014,"color":"rgba(255,255,255,0)"},{"offset":0.021,"color":"#72b852"},{"offset":0.028,"color":"rgba(255,255,255,0)"},{"offset":0.035,"color":"#72b852"},{"offset":0.042,"color":"rgba(255,255,255,0)"},{"offset":0.049,"color":"#72b852"},{"offset":0.056,"color":"rgba(255,255,255,0)"},{"offset":0.063,"color":"#72b852"},{"offset":0.07,"color":"rgba(255,255,255,0)"},{"offset":0.077,"color":"#72b852"},{"offset":0.084,"color":"rgba(255,255,255,0)"},{"offset":0.091,"color":"#72b852"},{"offset":0.098,"color":"rgba(255,255,255,0)"},{"offset":0.105,"color":"#72b852"},{"offset":0.112,"color":"rgba(255,255,255,0)"},{"offset":0.119,"color":"#72b852"},{"offset":0.126,"color":"rgba(255,255,255,0)"},{"offset":0.133,"color":"#72b852"},{"offset":0.14,"color":"rgba(255,255,255,0)"},{"offset":0.147,"color":"#72b852"},{"offset":0.154,"color":"rgba(255,255,255,0)"},{"offset":0.161,"color":"#72b852"},{"offset":0.168,"color":"rgba(255,255,255,0)"},{"offset":0.175,"color":"#72b852"},{"offset":0.182,"color":"rgba(255,255,255,0)"},{"offset":0.189,"color":"#72b852"},{"offset":0.196,"color":"rgba(255,255,255,0)"},{"offset":0.203,"color":"#72b852"},{"offset":0.21,"color":"rgba(255,255,255,0)"},{"offset":0.217,"color":"#72b852"},{"offset":0.224,"color":"rgba(255,255,255,0)"},{"offset":0.231,"color":"#72b852"},{"offset":0.238,"color":"rgba(255,255,255,0)"},{"offset":0.245,"color":"#72b852"},{"offset":0.252,"color":"rgba(255,255,255,0)"},{"offset":0.259,"color":"#72b852"},{"offset":0.266,"color":"rgba(255,255,255,0)"},{"offset":0.273,"color":"#72b852"},{"offset":0.28,"color":"rgba(255,255,255,0)"},{"offset":0.287,"color":"#72b852"},{"offset":0.294,"color":"rgba(255,255,255,0)"},{"offset":0.301,"color":"#72b852"},{"offset":0.308,"color":"rgba(255,255,255,0)"},{"offset":0.315,"color":"#72b852"},{"offset":0.322,"color":"rgba(255,255,255,0)"},{"offset":0.329,"color":"#72b852"},{"offset":0.336,"color":"rgba(255,255,255,0)"},{"offset":0.343,"color":"#72b852"},{"offset":0.35,"color":"rgba(255,255,255,0)"},{"offset":0.357,"color":"#72b852"},{"offset":0.364,"color":"rgba(255,255,255,0)"},{"offset":0.371,"color":"#72b852"},{"offset":0.378,"color":"rgba(255,255,255,0)"},{"offset":0.385,"color":"#72b852"},{"offset":0.392,"color":"rgba(255,255,255,0)"},{"offset":0.399,"color":"#72b852"},{"offset":0.406,"color":"rgba(255,255,255,0)"},{"offset":0.413,"color":"#72b852"},{"offset":0.42,"color":"rgba(255,255,255,0)"},{"offset":0.427,"color":"#72b852"},{"offset":0.434,"color":"rgba(255,255,255,0)"},{"offset":0.441,"color":"#72b852"},{"offset":0.448,"color":"rgba(255,255,255,0)"},{"offset":0.455,"color":"#72b852"},{"offset":0.462,"color":"rgba(255,255,255,0)"},{"offset":0.469,"color":"#72b852"},{"offset":0.476,"color":"rgba(255,255,255,0)"},{"offset":0.483,"color":"#72b852"},{"offset":0.49,"color":"rgba(255,255,255,0)"},{"offset":0.497,"color":"#72b852"},{"offset":0.504,"color":"rgba(255,255,255,0)"},{"offset":0.511,"color":"#72b852"},{"offset":0.518,"color":"rgba(255,255,255,0)"},{"offset":0.525,"color":"#72b852"},{"offset":0.532,"color":"rgba(255,255,255,0)"},{"offset":0.539,"color":"#72b852"},{"offset":0.546,"color":"rgba(255,255,255,0)"},{"offset":0.553,"color":"#72b852"},{"offset":0.56,"color":"rgba(255,255,255,0)"},{"offset":0.567,"color":"#72b852"},{"offset":0.574,"color":"rgba(255,255,255,0)"},{"offset":0.581,"color":"#72b852"},{"offset":0.588,"color":"rgba(255,255,255,0)"},{"offset":0.595,"color":"#72b852"},{"offset":0.602,"color":"rgba(255,255,255,0)"},{"offset":0.609,"color":"#72b852"},{"offset":0.616,"color":"rgba(255,255,255,0)"},{"offset":0.623,"color":"#72b852"},{"offset":0.63,"color":"rgba(255,255,255,0)"},{"offset":0.637,"color":"#72b852"},{"offset":0.644,"color":"rgba(255,255,255,0)"},{"offset":0.651,"color":"#72b852"},{"offset":0.658,"color":"rgba(255,255,255,0)"},{"offset":0.665,"color":"#72b852"},{"offset":0.672,"color":"rgba(255,255,255,0)"},{"offset":0.679,"color":"#72b852"},{"offset":0.686,"color":"rgba(255,255,255,0)"},{"offset":0.693,"color":"#72b852"},{"offset":0.7,"color":"rgba(255,255,255,0)"},{"offset":0.707,"color":"#72b852"},{"offset":0.714,"color":"rgba(255,255,255,0)"},{"offset":0.721,"color":"#72b852"},{"offset":0.728,"color":"rgba(255,255,255,0)"},{"offset":0.735,"color":"#72b852"},{"offset":0.742,"color":"rgba(255,255,255,0)"},{"offset":0.749,"color":"#72b852"},{"offset":0.756,"color":"rgba(255,255,255,0)"},{"offset":0.763,"color":"#72b852"},{"offset":0.77,"color":"rgba(255,255,255,0)"},{"offset":0.777,"color":"#72b852"},{"offset":0.784,"color":"rgba(255,255,255,0)"},{"offset":0.791,"color":"#72b852"},{"offset":0.798,"color":"rgba(255,255,255,0)"},{"offset":0.805,"color":"#72b852"},{"offset":0.812,"color":"rgba(255,255,255,0)"},{"offset":0.819,"color":"#72b852"},{"offset":0.826,"color":"rgba(255,255,255,0)"},{"offset":0.833,"color":"#72b852"},{"offset":0.84,"color":"rgba(255,255,255,0)"},{"offset":0.847,"color":"#72b852"},{"offset":0.854,"color":"rgba(255,255,255,0)"},{"offset":0.861,"color":"#72b852"},{"offset":0.868,"color":"rgba(255,255,255,0)"},{"offset":0.875,"color":"#72b852"},{"offset":0.882,"color":"rgba(255,255,255,0)"},{"offset":0.889,"color":"#72b852"},{"offset":0.896,"color":"rgba(255,255,255,0)"},{"offset":0.903,"color":"#72b852"},{"offset":0.91,"color":"rgba(255,255,255,0)"},{"offset":0.917,"color":"#72b852"},{"offset":0.924,"color":"rgba(255,255,255,0)"},{"offset":0.931,"color":"#72b852"},{"offset":0.938,"color":"rgba(255,255,255,0)"},{"offset":0.945,"color":"#72b852"},{"offset":0.952,"color":"rgba(255,255,255,0)"},{"offset":0.959,"color":"#72b852"},{"offset":0.966,"color":"rgba(255,255,255,0)"},{"offset":0.973,"color":"#72b852"},{"offset":0.98,"color":"rgba(255,255,255,0)"},{"offset":0.987,"color":"#72b852"},{"offset":0.994,"color":"rgba(255,255,255,0)"},{"offset":1,"color":"#72b852"}]}},
 "encoding":{"x":{"field":"s","type":"quantitative","axis":null},"y":{"field":"w","type":"quantitative","axis":null},"y2":{"datum":0}}},
{"data":{"name":"B_curves"},"mark":{"type":"line","strokeWidth":1.1},
 "encoding":{"x":{"field":"s","type":"quantitative","axis":null},"y":{"field":"w","type":"quantitative","axis":null},
  "color":{"field":"curve","type":"nominal","scale":{"domain":["power","tail","upper","lower","red","orange","base"],"range":["#7a78c2","#c9c8de","#8a8a8a","#7a7a7a","#d56a6a","#c8c8c8","#b0b0b0"]},"legend":null}}},
{"data":{"values":[{"s":4.54}]},"mark":{"type":"rule","color":"#7f7fc4","strokeWidth":1},
 "encoding":{"x":{"field":"s","type":"quantitative","axis":null},"y":{"datum":0,"axis":null},"y2":{"datum":6200}}},
{"data":{"values":[{"s":1.949},{"s":4.119}]},"mark":{"type":"rule","color":"#9a9a9a","strokeWidth":0.6},
 "encoding":{"x":{"field":"s","type":"quantitative","axis":null},"y":{"datum":-475,"axis":null},"y2":{"datum":-644}}},
{"data":{"name":"B_text"},"mark":{"type":"text","fontSize":3.2,"font":"DejaVu Sans","align":"left","baseline":"middle","color":"#333333"},
 "encoding":{"x":{"field":"s","type":"quantitative","axis":null},"y":{"field":"w","type":"quantitative","axis":null},"text":{"field":"label"}}},
{"data":{"values":[{}]},"mark":{"type":"rect","filled":false,"color":"#e52a22","strokeWidth":2},
 "encoding":{"x":{"datum":-0.734,"axis":null},"x2":{"datum":-0.229},"y":{"datum":5526,"axis":null},"y2":{"datum":-983}}},
{"data":{"values":[{"label":"Wygenerowane krzywe","s":1.186,"w":5492}]},"mark":{"type":"text","fontSize":11.4,"font":"Lato","align":"left","baseline":"middle","color":"#1a1a1a"},
 "encoding":{"x":{"field":"s","type":"quantitative","axis":null},"y":{"field":"w","type":"quantitative","axis":null},"text":{"field":"label"}}},
{"data":{"values":[{"label":"Drugi cykl","s":1.153,"w":3153}]},"mark":{"type":"text","fontSize":13,"font":"Lato","align":"left","baseline":"middle","color":"#86c656"},
 "encoding":{"x":{"field":"s","type":"quantitative","axis":null},"y":{"field":"w","type":"quantitative","axis":null},"text":{"field":"label"}}},
{"data":{"values":[{"s":1.13,"w":5346,"s2":-0.225,"w2":4383}]},"layer":[
 {"mark":{"type":"rule","color":"#1a1a1a","strokeWidth":1.2},"encoding":{"x":{"field":"s","type":"quantitative","axis":null},"y":{"field":"w","type":"quantitative","axis":null},"x2":{"field":"s2"},"y2":{"field":"w2"}}},
 {"mark":{"type":"point","shape":"M 0 0 L -2 -0.8 L -2 0.8 Z","filled":true,"opacity":1,"color":"#1a1a1a","size":30,"angle":160.5},"encoding":{"x":{"field":"s2","type":"quantitative","axis":null},"y":{"field":"w2","type":"quantitative","axis":null}}}]},
{"data":{"values":[{"s":2.215,"w":3109,"s2":5.734,"w2":2485}]},"layer":[
 {"mark":{"type":"rule","color":"#5fa83e","strokeWidth":1.2},"encoding":{"x":{"field":"s","type":"quantitative","axis":null},"y":{"field":"w","type":"quantitative","axis":null},"x2":{"field":"s2"},"y2":{"field":"w2"}}},
 {"mark":{"type":"point","shape":"M 0 0 L -2 -0.8 L -2 0.8 Z","filled":true,"opacity":1,"color":"#5fa83e","size":30,"angle":5.06},"encoding":{"x":{"field":"s2","type":"quantitative","axis":null},"y":{"field":"w2","type":"quantitative","axis":null}}}]},
{"data":{"values":[{"s":2.203,"w":2915,"s2":2.656,"w2":2271}]},"layer":[
 {"mark":{"type":"rule","color":"#5fa83e","strokeWidth":1.2},"encoding":{"x":{"field":"s","type":"quantitative","axis":null},"y":{"field":"w","type":"quantitative","axis":null},"x2":{"field":"s2"},"y2":{"field":"w2"}}},
 {"mark":{"type":"point","shape":"M 0 0 L -2 -0.8 L -2 0.8 Z","filled":true,"opacity":1,"color":"#5fa83e","size":30,"angle":35.4},"encoding":{"x":{"field":"s2","type":"quantitative","axis":null},"y":{"field":"w2","type":"quantitative","axis":null}}}]},
{"data":{"values":[{"s":5.99,"w":2356}]},"mark":{"type":"point","shape":"M -1 0 A 1 0.7 0 1 1 1 0 A 1 0.7 0 1 1 -1 0 Z","filled":false,"opacity":1,"color":"#e3261f","strokeWidth":1.8,"size":729},
 "encoding":{"x":{"field":"s","type":"quantitative","axis":null},"y":{"field":"w","type":"quantitative","axis":null}}}
],
"resolve":{"scale":{"color":"independent","fill":"independent"}}
},
{"data":{"name":"files"},"layer":[
 {"mark":{"type":"rect","stroke":"#d2cb6c","strokeWidth":0.3},
  "encoding":{"x":{"datum":"list","type":"nominal","scale":{"range":[39.3,61.7],"paddingInner":0,"paddingOuter":0},"axis":null},
   "y":{"field":"item","type":"nominal","sort":null,"scale":{"range":[256,434],"paddingInner":0.12,"paddingOuter":0},"axis":null},
   "fill":{"condition":{"test":"datum.item === 'C8820_FT1010PW1'","value":"#3b64c6"},"value":"#f3ed78"}}},
 {"mark":{"type":"text","fontSize":2.6,"font":"DejaVu Sans","align":"left","dx":1,"color":"#6b6631"},
  "encoding":{"x":{"datum":"list","type":"nominal","bandPosition":0,"axis":null},"y":{"field":"item","type":"nominal","sort":null,"axis":null},"text":{"field":"item"}}}]}
],
"resolve":{"scale":{"x":"independent","y":"independent"}}
},
{
"layer":[
{"data":{"values":[{"v":240.3}]},"mark":{"type":"rule","color":"#999999","strokeWidth":0.8,"strokeDash":[1.2,1.8]},
 "encoding":{"x":{"datum":0,"type":"quantitative","scale":{"domain":[0,130],"range":[479,869],"nice":false,"zero":false},"axis":null},"x2":{"datum":130},
  "y":{"field":"v","type":"quantitative","scale":{"domain":[0,290],"range":[302,12],"nice":false,"zero":false},"axis":null}}},
{"data":{"values":[{"v":44.7}]},"mark":{"type":"rule","color":"#b0b0b0","strokeWidth":1},
 "encoding":{"x":{"datum":0,"axis":null},"x2":{"datum":130},"y":{"field":"v","type":"quantitative","axis":null}}},
{"data":{"values":[{"v":0.6}]},"mark":{"type":"rule","color":"#a0a0a0","strokeWidth":2},
 "encoding":{"x":{"datum":0,"axis":null},"x2":{"datum":130},"y":{"field":"v","type":"quantitative","axis":null}}},
{"data":{"values":[{"t":39.8},{"t":42.6},{"t":89.8}]},"mark":{"type":"rule","color":"#e07a7a","strokeWidth":1},
 "encoding":{"x":{"field":"t","type":"quantitative","axis":null},"y":{"datum":0,"axis":null},"y2":{"datum":290}}},
{"data":{"values":[{"t":39.6,"v":224.7,"v2":97},{"t":89.6,"v":165,"v2":88.7}]},"mark":{"type":"rule","color":"#8a8a8a","strokeWidth":1},
 "encoding":{"x":{"field":"t","type":"quantitative","axis":null},"y":{"field":"v","type":"quantitative","axis":null},"y2":{"field":"v2"}}},
{"data":{"values":[{"t":39.7,"v":112.7,"v2":22},{"t":89.65,"v":238,"v2":165},{"t":89.7,"v":120.3,"v2":83}]},"mark":{"type":"rule","color":"#a31c1c","strokeWidth":1.3},
 "encoding":{"x":{"field":"t","type":"quantitative","axis":null},"y":{"field":"v","type":"quantitative","axis":null},"y2":{"field":"v2"}}},
{"data":{"name":"C_series"},"mark":{"type":"line","strokeWidth":1},
 "encoding":{"x":{"field":"t","type":"quantitative","axis":null},"y":{"field":"v","type":"quantitative","axis":null},"detail":{"field":"seg"},
  "color":{"field":"series","type":"nominal","scale":{"domain":["tool","ref"],"range":["#222222","#c0505c"]},"legend":null}}},
{"data":{"values":[{"t":28.67,"v":152,"t2":43.67,"v2":119.3}]},"layer":[
 {"mark":{"type":"rule","color":"#559a38","strokeWidth":1.2},"encoding":{"x":{"field":"t","type":"quantitative","axis":null},"y":{"field":"v","type":"quantitative","axis":null},"x2":{"field":"t2"},"y2":{"field":"v2"}}},
 {"mark":{"type":"point","shape":"M 0 0 L -2 -0.8 L -2 0.8 Z","filled":true,"opacity":1,"color":"#559a38","size":25,"angle":36},"encoding":{"x":{"field":"t2","type":"quantitative","axis":null},"y":{"field":"v2","type":"quantitative","axis":null}}}]},
{"data":{"values":[{"t":23.67,"v":132,"t2":42,"v2":110.3}]},"layer":[
 {"mark":{"type":"rule","color":"#f3b515","strokeWidth":1.2},"encoding":{"x":{"field":"t","type":"quantitative","axis":null},"y":{"field":"v","type":"quantitative","axis":null},"x2":{"field":"t2"},"y2":{"field":"v2"}}},
 {"mark":{"type":"point","shape":"M 0 0 L -2 -0.8 L -2 0.8 Z","filled":true,"opacity":1,"color":"#f3b515","size":25,"angle":21.5},"encoding":{"x":{"field":"t2","type":"quantitative","axis":null},"y":{"field":"v2","type":"quantitative","axis":null}}}]},
{"data":{"values":[{"wear":"x1","t":43.43,"v":109.3},{"wear":"x2","t":45.1,"v":116.3}]},"mark":{"type":"point","filled":true,"opacity":1,"size":14},
 "encoding":{"x":{"field":"t","type":"quantitative","axis":null},"y":{"field":"v","type":"quantitative","axis":null},
  "color":{"field":"wear","type":"nominal","scale":{"domain":["x1","x2"],"range":["#f3b515","#559a38"]},"legend":null}}},
{"data":{"values":[{"wear":"x1","sub":"1","t":15.33,"v":137},{"wear":"x2","sub":"2","t":20.67,"v":160.3}]},"layer":[
 {"mark":{"type":"text","font":"Noto Sans","fontSize":19,"align":"left","baseline":"alphabetic","text":"x"},
  "encoding":{"x":{"field":"t","type":"quantitative","axis":null},"y":{"field":"v","type":"quantitative","axis":null},
   "fill":{"field":"wear","type":"nominal","scale":{"domain":["x1","x2"],"range":["#f9c64a","#82c35a"]},"legend":null}}},
 {"mark":{"type":"text","font":"Noto Sans","fontSize":14,"align":"left","baseline":"alphabetic","dx":11.5,"dy":4.5},
  "encoding":{"x":{"field":"t","type":"quantitative","axis":null},"y":{"field":"v","type":"quantitative","axis":null},"text":{"field":"sub"},
   "fill":{"field":"wear","type":"nominal","scale":{"domain":["x1","x2"],"range":["#f9c64a","#82c35a"]},"legend":null}}}],
 "resolve":{"scale":{"fill":"shared"}}}
],
"resolve":{"scale":{"color":"independent","fill":"independent"}}
},
{
"data":{"values":[
 {"wear":"x1","sym":"x","sub":"1","desc":"– zużycie narzędzia po pierwszym cyklu"},
 {"wear":"x2","sym":"x","sub":"2","desc":"– zużycie narzędzia po pierwszym i drugim cyklu"}]},
"layer":[
 {"mark":{"type":"text","font":"Liberation Serif","fontStyle":"italic","fontSize":19,"align":"left","baseline":"alphabetic"},
  "encoding":{"x":{"datum":"symbol","type":"nominal","scale":{"type":"point","domain":["symbol","description"],"range":[477,500],"padding":0},"axis":null},
   "y":{"field":"wear","type":"nominal","scale":{"type":"point","domain":["x1","x2"],"range":[358,398],"padding":0},"axis":null},
   "text":{"field":"sym"},
   "color":{"field":"wear","type":"nominal","scale":{"domain":["x1","x2"],"range":["#ffc000","#92d050"]},"legend":null}}},
 {"mark":{"type":"text","font":"Liberation Serif","fontSize":13,"align":"left","baseline":"alphabetic","dx":9.5,"dy":4},
  "encoding":{"x":{"datum":"symbol","type":"nominal","axis":null},"y":{"field":"wear","type":"nominal","axis":null},"text":{"field":"sub"},
   "color":{"field":"wear","type":"nominal","legend":null}}},
 {"mark":{"type":"text","font":"Liberation Serif","fontSize":19.2,"align":"left","baseline":"alphabetic","color":"#111111"},
  "encoding":{"x":{"datum":"description","type":"nominal","axis":null},"y":{"field":"wear","type":"nominal","axis":null},"text":{"field":"desc"}}}
]
}
],
"resolve":{"scale":{"x":"independent","y":"independent","color":"independent","fill":"independent"}}
}
